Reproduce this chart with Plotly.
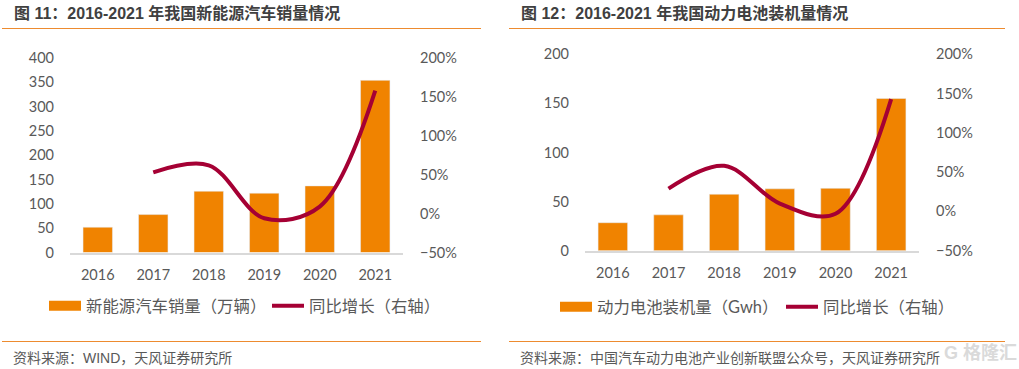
import plotly.graph_objects as go

years = ["2016", "2017", "2018", "2019", "2020", "2021"]
ev_sales = [52, 78, 126, 122, 137, 354]
ev_growth = [None, 53, 62, -6, 9, 158]
battery = [28.5, 36.5, 57.5, 63, 63.5, 155]
battery_growth = [None, 29, 58, 10, -3, 143]

title_left = "图 11：2016-2021 年我国新能源汽车销量情况"
title_right = "图 12：2016-2021 年我国动力电池装机量情况"
source_left = "资料来源：WIND，天风证券研究所"
source_right = "资料来源：中国汽车动力电池产业创新联盟公众号，天风证券研究所"
bar_name_left = "新能源汽车销量（万辆）"
bar_name_right = "动力电池装机量（Gwh）"
line_name = "同比增长（右轴）"

W, H = 1019, 369
ORANGE = "#F08300"
RED = "#A50034"
RULE = "#ED8B2F"
TXT = "#595959"
FONT = "Lato, 'Noto Sans CJK SC', sans-serif"
fx = lambda p: p / W
fy = lambda p: 1 - p / H

fig = go.Figure()

def add_chart(xa, ya, yb, bars, growth, bar_name, legend):
    fig.add_trace(go.Bar(x=years, y=bars, xaxis=xa, yaxis=ya, marker_color=ORANGE,
                         showlegend=False, hoverinfo="skip"))
    fig.add_trace(go.Scatter(x=[None], y=[None], xaxis=xa, yaxis=ya, mode="lines", name=bar_name,
                             line=dict(color=ORANGE, width=10), legend=legend))
    fig.add_trace(go.Scatter(x=years, y=growth, xaxis=xa, yaxis=yb, mode="lines", name=line_name,
                             line=dict(color=RED, width=4, shape="spline", smoothing=1.0),
                             legend=legend))

add_chart("x", "y", "y2", ev_sales, ev_growth, bar_name_left, "legend")
add_chart("x2", "y3", "y4", battery, battery_growth, bar_name_right, "legend2")

tick_font = dict(family=FONT, size=14.5, color=TXT)

def x_axis(x0, x1, anchor):
    return dict(domain=[fx(x0), fx(x1)], anchor=anchor, type="category", showgrid=False,
                showline=True, linecolor="#D9D9D9", linewidth=1.5, ticks="", tickfont=tick_font,
                ticklabelstandoff=8, zeroline=False, fixedrange=True)

def y_left(y_top, y_bot, anchor, top, step):
    return dict(domain=[fy(y_bot), fy(y_top)], anchor=anchor, range=[0, top], dtick=step,
                showgrid=False, zeroline=False, showline=False, ticks="", tickfont=tick_font,
                ticklabelstandoff=15, fixedrange=True)

def y_right(over, anchor, y_top, y_bot):
    return dict(domain=[fy(y_bot), fy(y_top)], anchor=anchor, overlaying=over, side="right",
                range=[-50, 200], dtick=50, ticksuffix="%", showgrid=False, zeroline=False,
                showline=False, ticks="", tickfont=tick_font, ticklabelstandoff=16, fixedrange=True)

leg_font = dict(family=FONT, size=16.4, color=TXT)

def legend_at(x, y, entry):
    return dict(x=fx(x), y=fy(y), xanchor="left", yanchor="middle",
                orientation="h", font=leg_font, itemwidth=32, bgcolor="rgba(0,0,0,0)", tracegroupgap=0,
                entrywidth=entry, entrywidthmode="pixels",
                itemclick=False, itemdoubleclick=False)

def note(x, y, text, size, color=TXT, bold=False):
    return dict(xref="paper", yref="paper", x=fx(x), y=fy(y), xanchor="left", yanchor="middle",
                text=f"<b>{text}</b>" if bold else text, showarrow=False,
                font=dict(family="'Liberation Sans', 'Noto Sans CJK SC', sans-serif", size=size, color=color))

def rule(x0, x1, y):
    return dict(type="line", xref="paper", yref="paper", x0=fx(x0), x1=fx(x1), y0=fy(y), y1=fy(y),
                line=dict(color=RULE, width=1))

fig.update_layout(
    width=W, height=H, margin=dict(l=0, r=0, t=0, b=0, autoexpand=False),
    paper_bgcolor="white", plot_bgcolor="white",
    bargap=0.47, barmode="overlay", hovermode=False,
    xaxis=x_axis(70, 403, "y"),
    yaxis=y_left(58, 252.5, "x", 400, 50),
    yaxis2=y_right("y", "x", 58, 252.5),
    xaxis2=x_axis(585, 919, "y3"),
    yaxis3=y_left(54.3, 250.7, "x2", 200, 50),
    yaxis4=y_right("y3", "x2", 54.3, 250.7),
    legend=legend_at(44, 306, 176),
    legend2=legend_at(555, 307, 179),
    shapes=[rule(2, 481, 28.5), rule(509, 1005, 28.5), rule(2, 481, 341.5), rule(509, 1005, 341.5)],
    annotations=[
        note(11.5, 13, title_left, 16, "#404040", True),
        note(519, 13, title_right, 16, "#404040", True),
        note(11, 358, source_left, 14),
        note(518, 358, source_right, 14),
        note(942, 353, "G 格隆汇", 18, "#DADADA", True),
    ],
)

fig.write_html("out.html", config=dict(displayModeBar=False),
               post_script="document.body.style.margin='0';document.body.style.overflow='hidden';")
